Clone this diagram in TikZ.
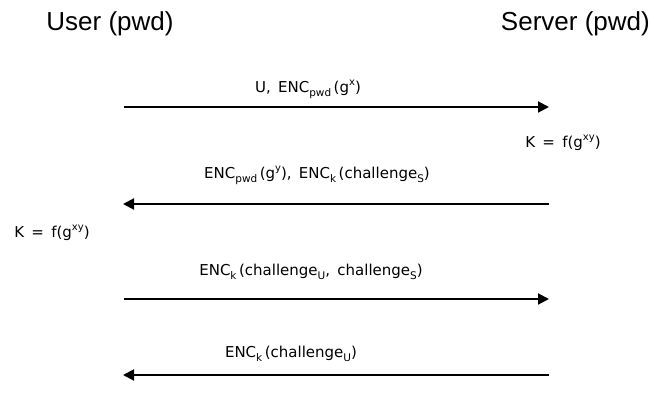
\documentclass[tikz,border=0pt]{standalone}
\usepackage{fontspec}
\setmainfont{Liberation Sans}
\newfontfamily\lblfont{DejaVu Sans}
\usetikzlibrary{arrows.meta}
\newcommand\lo[1]{\raisebox{-0.5ex}{\fontsize{10.5}{11}\selectfont #1}}
\newcommand\hi[1]{\raisebox{0.8ex}{\fontsize{10}{10}\selectfont #1}}
\begin{document}
\begin{tikzpicture}[x=1pt,y=-1pt,
  title/.style={font=\fontsize{26}{28}\selectfont, inner sep=0pt, anchor=base},
  lbl/.style={font=\lblfont\fontsize{15}{17}\selectfont, inner sep=0pt, anchor=base},
  msg/.style={line width=2pt, -{Triangle[length=11pt,width=11pt]}}]
\useasboundingbox (0,0) rectangle (654,397);
\node[title] (user) at (110,30) {User (pwd)};
\node[title, anchor=base east] (server) at (650,30) {Server (pwd)};

\coordinate (l1) at (124,107); \coordinate (r1) at (549,107);
\coordinate (l2) at (123,204); \coordinate (r2) at (549,204);
\coordinate (l3) at (124,299); \coordinate (r3) at (549,299);
\coordinate (l4) at (123,375); \coordinate (r4) at (549,375);

\draw[msg] (l1) -- (r1);
\draw[msg] (r2) -- (l2);
\draw[msg] (l3) -- (r3);
\draw[msg] (r4) -- (l4);

\node[lbl] (m1) at (308,92) {U,\, ENC\lo{pwd}\,(g\hi{x})};
\node[lbl] (m2) at (317,178) {ENC\lo{pwd}\,(g\hi{y}),\, ENC\lo{k}\,(challenge\lo{S})};
\node[lbl] (m3) at (311,275) {ENC\lo{k}\,(challenge\lo{U},\, challenge\lo{S})};
\node[lbl] (m4) at (291,357) {ENC\lo{k}\,(challenge\lo{U})};
\node[lbl] (ks) at (563,147) {K \,=\, f(g\hi{xy})};
\node[lbl] (ku) at (52,237) {K \,=\, f(g\hi{xy})};
\end{tikzpicture}
\end{document}
